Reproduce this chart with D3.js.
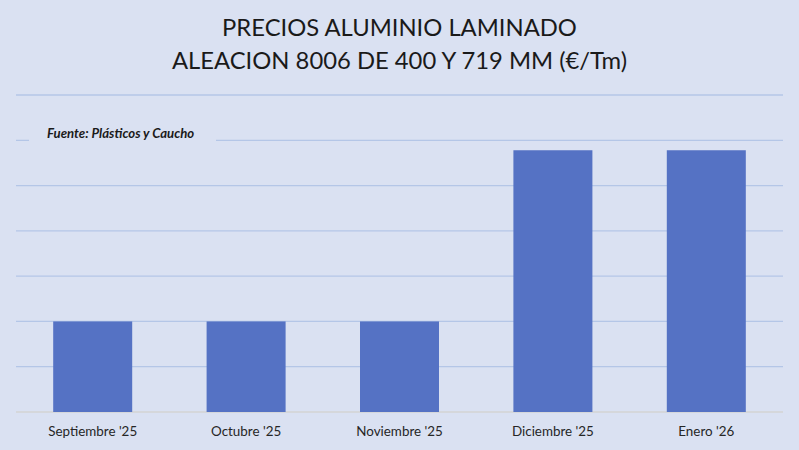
<!DOCTYPE html>
<html>
<head>
<meta charset="utf-8">
<script src="https://cdn.jsdelivr.net/npm/d3@7"></script>
<style>
  body { margin: 0; background: #dae1f2; }
  svg { display: block; }
</style>
</head>
<body>
<div id="chart"></div>
<script>
const categories = ["Septiembre '25", "Octubre '25", "Noviembre '25", "Diciembre '25", "Enero '26"];
const precios = [1000, 1000, 1000, 2890, 2890];
const yTicks = [0, 500, 1000, 1500, 2000, 2500, 3000, 3500];
const titleLines = ["PRECIOS ALUMINIO LAMINADO", "ALEACION 8006 DE 400 Y 719 MM (€/Tm)"];
const sourceText = "Fuente: Plásticos y Caucho";

const W = 799, H = 450;
const margin = {top: 95, right: 16, bottom: 38, left: 16},
    width = W - margin.left - margin.right,
    height = H - margin.top - margin.bottom;

const root = d3.select("#chart")
    .append("svg")
    .attr("width", W)
    .attr("height", H);

root.append("rect")
    .attr("width", W)
    .attr("height", H)
    .attr("fill", "#dae1f2");

root.append("text")
    .attr("x", W / 2)
    .attr("text-anchor", "middle")
    .attr("font-family", "Lato, 'Open Sans', sans-serif")
    .attr("font-size", 23.8)
    .attr("fill", "#1a1a1a")
    .selectAll("tspan")
    .data(titleLines)
    .join("tspan")
    .attr("x", W / 2)
    .attr("y", (d, i) => 36 + i * 33)
    .text(d => d);

const svg = root.append("g")
    .attr("transform", `translate(${margin.left},${margin.top})`);

const xScale = d3.scaleBand()
    .domain(categories)
    .range([0, width])
    .paddingInner(0.485)
    .paddingOuter(0.2425);

const yScale = d3.scaleLinear()
    .domain([0, 3500])
    .range([height, 0]);

// gridlines
svg.append("g")
    .selectAll("line")
    .data(yTicks.slice(1))
    .join("line")
    .attr("x1", 0)
    .attr("x2", width)
    .attr("y1", d => yScale(d))
    .attr("y2", d => yScale(d))
    .attr("stroke", "#b4c6e7")
    .attr("stroke-width", 1.3);

// baseline
svg.append("line")
    .attr("x1", 0)
    .attr("x2", width)
    .attr("y1", yScale(0))
    .attr("y2", yScale(0))
    .attr("stroke", "#d3d3d3")
    .attr("stroke-width", 1.3);

svg.append("g")
    .selectAll("rect")
    .data(precios)
    .join("rect")
    .attr("x", (d, i) => xScale(categories[i]))
    .attr("y", d => yScale(d))
    .attr("width", xScale.bandwidth())
    .attr("height", d => height - yScale(d))
    .attr("fill", "#5572c4");

const xAxis = svg.append("g")
    .attr("transform", `translate(0, ${height})`)
    .call(d3.axisBottom(xScale).tickSize(0).tickPadding(14));
xAxis.select(".domain").remove();
xAxis.selectAll("text")
    .attr("font-family", "Lato, 'Open Sans', sans-serif")
    .attr("font-size", 13.4)
    .attr("fill", "#262626");

// source label with background box covering the gridline
const src = root.append("g");
src.append("rect")
    .attr("x", 29)
    .attr("y", 122)
    .attr("width", 187)
    .attr("height", 26)
    .attr("fill", "#dae1f2");
src.append("text")
    .attr("x", 47)
    .attr("y", 138)
    .attr("font-family", "Lato, 'Open Sans', sans-serif")
    .attr("font-size", 13.2)
    .attr("font-style", "italic")
    .attr("font-weight", "bold")
    .attr("fill", "#1a1a1a")
    .text(sourceText);
</script>
</body>
</html>
